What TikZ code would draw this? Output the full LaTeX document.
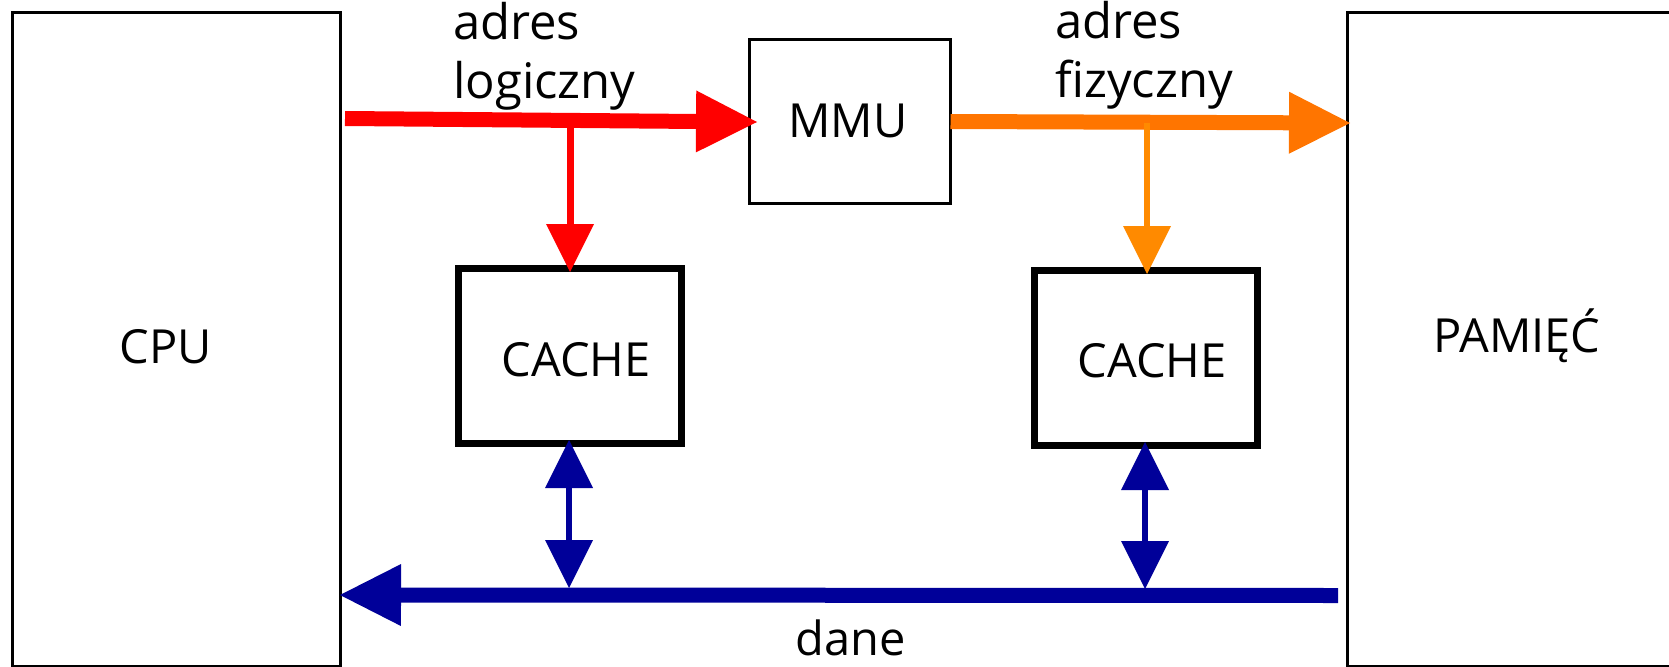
\documentclass[tikz,border=0pt]{standalone}
\usepackage{fontspec}
\setmainfont{Open Sans}
\usetikzlibrary{arrows.meta}
\definecolor{cred}{HTML}{FF0000}
\definecolor{corange}{HTML}{FF7500}
\definecolor{corangelt}{HTML}{FF8A00}
\definecolor{cblue}{HTML}{000099}
\begin{document}
\begin{tikzpicture}[x=1pt,y=-1pt,
  box/.style={draw=black, line width=3pt, inner sep=0pt, outer sep=0pt},
  cachebox/.style={draw=black, line width=7pt, inner sep=0pt, outer sep=0pt},
  lbl/.style={inner sep=0pt, anchor=base, font=\fontsize{47}{56}\selectfont},
  lblw/.style={inner sep=0pt, anchor=base west, font=\fontsize{49}{58}\selectfont},
  bighead/.style={-{Triangle[length=61pt,width=62pt,line width=0pt]}},
  smallhead/.style={-{Triangle[length=48pt,width=48pt,line width=0pt]}},
  dblhead/.style={{Triangle[length=48pt,width=48pt,line width=0pt]}-{Triangle[length=48pt,width=48pt,line width=0pt]}},
  bus/.style={line width=15pt},
  tap/.style={line width=6.5pt}]
\useasboundingbox (0,0) rectangle (1669,666);
\clip (0,0) rectangle (1669,666);
\fill[white] (0,0) rectangle (1669,666);

% boxes
\node[box, minimum width=328pt, minimum height=653.5pt] (cpu) at (176.5,339.25) {};
\node[box, minimum width=343pt, minimum height=653.5pt] (pam) at (1518.5,339.25) {};
\node[box, minimum width=201pt, minimum height=164pt] (mmu) at (850,121.5) {};
\node[cachebox, minimum width=223pt, minimum height=175pt] (cacheL) at (570,356) {};
\node[cachebox, minimum width=223pt, minimum height=175pt] (cacheR) at (1146,358) {};

% texts
\node[lbl] (cpuT) at (166,363) {CPU};
\node[lbl] (mmuT) at (848,138) {MMU};
\node[lbl] (cacheLT) at (576,376) {CACHE};
\node[lbl] (cacheRT) at (1152,377) {CACHE};
\node[lbl] (pamT) at (1517,352) {PAMIĘĆ};
\node[lbl] (daneT) at (851,655) {dane};
\node[lblw] (adr1) at (453,40) {adres};
\node[lblw] (adr2) at (453,99) {logiczny};
\node[lblw] (adr3) at (1055,39) {adres};
\node[lblw] (adr4) at (1055,98) {fizyczny};

% coordinates
\coordinate (rStart) at (345,118.5);
\coordinate (rTip) at (757,122);
\coordinate (rTap) at (570,126);
\coordinate (rTapTip) at (570,272);
\coordinate (oTip) at (1350,123);
\coordinate (oTap) at (1147,123);
\coordinate (oTapTip) at (1147,274);
\coordinate (bStart) at (1338,595.5);
\coordinate (bTip) at (340,595);
\coordinate (bL1) at (569,440);
\coordinate (bL2) at (569,588);
\coordinate (bR1) at (1145,442);
\coordinate (bR2) at (1145,589);

% connectors
\draw[bus, cred, bighead] (rStart) -- (rTip);
\draw[tap, line width=7pt, cred, smallhead] (rTap) -- (rTapTip);
\draw[bus, corange, bighead] (mmu.east) -- (oTip);
\draw[tap, line width=6pt, corangelt, smallhead] (oTap) -- (oTapTip);
\draw[bus, cblue, bighead] (bStart) -- (bTip);
\draw[tap, cblue, dblhead] (bL1) -- (bL2);
\draw[tap, cblue, dblhead] (bR1) -- (bR2);
\end{tikzpicture}
\end{document}
